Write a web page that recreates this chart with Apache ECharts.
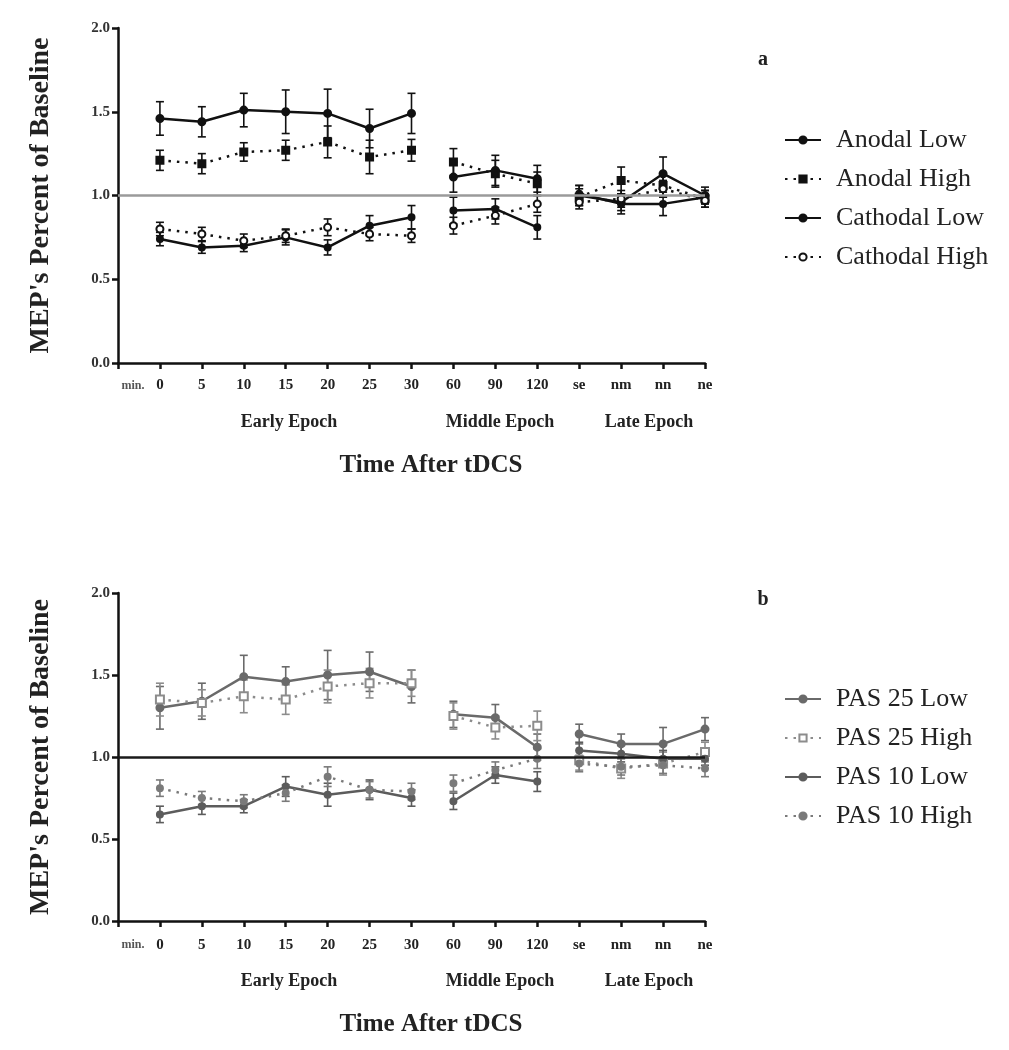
<!DOCTYPE html>
<html>
<head>
<meta charset="utf-8">
<script src="https://cdn.jsdelivr.net/npm/echarts@6/dist/echarts.min.js"></script>
<style>
html,body{margin:0;padding:0;background:#fff;}
#chart{width:1009px;height:1050px;}
</style>
</head>
<body>
<div id="chart"></div>
<script>
// ---- Data ----
var categories = ['', '0', '5', '10', '15', '20', '25', '30', '60', '90', '120', 'se', 'nm', 'nn', 'ne'];
var yTicks = [0, 0.5, 1.0, 1.5, 2.0];
var epochs = ['Early Epoch', 'Middle Epoch', 'Late Epoch'];

// Panel a (tDCS)
var anodalLow       = [1.46, 1.44, 1.51, 1.50, 1.49, 1.40, 1.49, 1.11, 1.15, 1.10, 1.00, 0.96, 1.13, 1.00];
var anodalLowErr    = [0.10, 0.09, 0.10, 0.13, 0.145, 0.115, 0.12, 0.09, 0.09, 0.08, 0.06, 0.05, 0.10, 0.05];
var anodalHigh      = [1.21, 1.19, 1.26, 1.27, 1.32, 1.23, 1.27, 1.20, 1.13, 1.07, 0.99, 1.09, 1.06, 0.98];
var anodalHighErr   = [0.06, 0.06, 0.055, 0.06, 0.095, 0.10, 0.065, 0.08, 0.08, 0.07, 0.05, 0.08, 0.07, 0.05];
var cathodalLow     = [0.74, 0.69, 0.70, 0.75, 0.69, 0.82, 0.87, 0.91, 0.92, 0.81, 1.01, 0.95, 0.95, 0.99];
var cathodalLowErr  = [0.04, 0.035, 0.035, 0.045, 0.045, 0.06, 0.07, 0.08, 0.06, 0.07, 0.05, 0.06, 0.07, 0.04];
var cathodalHigh    = [0.80, 0.77, 0.73, 0.76, 0.81, 0.77, 0.76, 0.82, 0.88, 0.95, 0.96, 0.98, 1.04, 0.97];
var cathodalHighErr = [0.04, 0.04, 0.04, 0.04, 0.05, 0.04, 0.04, 0.05, 0.05, 0.05, 0.04, 0.05, 0.05, 0.04];

// Panel b (PAS)
var pas25Low      = [1.30, 1.34, 1.49, 1.46, 1.50, 1.52, 1.43, 1.26, 1.24, 1.06, 1.14, 1.08, 1.08, 1.17];
var pas25LowErr   = [0.13, 0.11, 0.13, 0.09, 0.15, 0.12, 0.10, 0.08, 0.08, 0.08, 0.06, 0.06, 0.10, 0.07];
var pas25High     = [1.35, 1.33, 1.37, 1.35, 1.43, 1.45, 1.45, 1.25, 1.18, 1.19, 0.98, 0.93, 0.96, 1.03];
var pas25HighErr  = [0.10, 0.08, 0.10, 0.09, 0.10, 0.09, 0.08, 0.08, 0.07, 0.09, 0.06, 0.06, 0.07, 0.06];
var pas10Low      = [0.65, 0.70, 0.70, 0.82, 0.77, 0.80, 0.75, 0.73, 0.89, 0.85, 1.04, 1.02, 0.99, 0.99];
var pas10LowErr   = [0.05, 0.05, 0.04, 0.06, 0.07, 0.06, 0.05, 0.05, 0.05, 0.06, 0.05, 0.05, 0.05, 0.04];
var pas10High     = [0.81, 0.75, 0.73, 0.78, 0.88, 0.80, 0.79, 0.84, 0.92, 0.99, 0.96, 0.94, 0.95, 0.93];
var pas10HighErr  = [0.05, 0.04, 0.04, 0.05, 0.06, 0.05, 0.05, 0.05, 0.05, 0.06, 0.05, 0.05, 0.05, 0.05];

// epoch segments (indices into the 14 data points)
var segments = [[0, 6], [7, 9], [10, 13]];

var FONT = 'Liberation Serif';

var groups = [
  {grid: 0, items: [
    {name: 'Anodal Low', v: anodalLow, e: anodalLowErr, color: '#111', dash: 'solid', symbol: 'circle', size: 7},
    {name: 'Anodal High', v: anodalHigh, e: anodalHighErr, color: '#111', dash: [2.5, 6], symbol: 'rect', size: 7},
    {name: 'Cathodal Low', v: cathodalLow, e: cathodalLowErr, color: '#111', dash: 'solid', symbol: 'circle', size: 6},
    {name: 'Cathodal High', v: cathodalHigh, e: cathodalHighErr, color: '#111', dash: [2.5, 6], symbol: 'emptyCircle', size: 7}
  ]},
  {grid: 1, items: [
    {name: 'PAS 25 Low', v: pas25Low, e: pas25LowErr, color: '#6a6a6a', dash: 'solid', symbol: 'circle', size: 7},
    {name: 'PAS 25 High', v: pas25High, e: pas25HighErr, color: '#8c8c8c', dash: [2.5, 6], symbol: 'emptyRect', size: 8},
    {name: 'PAS 10 Low', v: pas10Low, e: pas10LowErr, color: '#5c5c5c', dash: 'solid', symbol: 'circle', size: 6},
    {name: 'PAS 10 High', v: pas10High, e: pas10HighErr, color: '#7a7a7a', dash: [2.5, 6], symbol: 'circle', size: 6}
  ]}
];

var series = [];
groups.forEach(function (g) {
  g.items.forEach(function (it) {
    segments.forEach(function (seg) {
      var data = categories.map(function () { return '-'; });
      for (var i = seg[0]; i <= seg[1]; i++) data[i + 1] = it.v[i];
      series.push({
        type: 'line', name: it.name, xAxisIndex: g.grid, yAxisIndex: g.grid,
        data: data, connectNulls: false,
        symbol: it.symbol, symbolSize: it.size,
        lineStyle: {color: it.color, width: 2.5, type: it.dash},
        itemStyle: {color: it.color, borderColor: it.color, borderWidth: 2},
        z: 3
      });
    });
    var errData = it.v.map(function (val, i) { return [i + 1, val, it.e[i]]; });
    series.push({
      type: 'custom', name: it.name + ' err', xAxisIndex: g.grid, yAxisIndex: g.grid,
      data: errData, z: 2,
      renderItem: function (params, api) {
        var x = api.value(0), y = api.value(1), e = api.value(2);
        var top = api.coord([x, y + e]);
        var bot = api.coord([x, y - e]);
        var w = 4;
        var st = {stroke: it.color, lineWidth: 1.6};
        return {type: 'group', children: [
          {type: 'line', shape: {x1: top[0], y1: top[1], x2: bot[0], y2: bot[1]}, style: st},
          {type: 'line', shape: {x1: top[0] - w, y1: top[1], x2: top[0] + w, y2: top[1]}, style: st},
          {type: 'line', shape: {x1: bot[0] - w, y1: bot[1], x2: bot[0] + w, y2: bot[1]}, style: st}
        ]};
      }
    });
  });
});

// reference lines at 1.0
series.push({
  type: 'line', name: 'ref0', xAxisIndex: 0, yAxisIndex: 0, data: [], silent: true,
  markLine: {symbol: 'none', silent: true, label: {show: false},
    lineStyle: {color: '#9a9a9a', width: 2.5, type: 'solid'}, data: [{yAxis: 1}]}, z: 1
});
series.push({
  type: 'line', name: 'ref1', xAxisIndex: 1, yAxisIndex: 1, data: [], silent: true,
  markLine: {symbol: 'none', silent: true, label: {show: false},
    lineStyle: {color: '#1a1a1a', width: 2.5, type: 'solid'}, data: [{yAxis: 1}]}, z: 1
});

function xAxisCfg(gi, margin) {
  return {
    type: 'category', gridIndex: gi, data: categories, boundaryGap: false,
    axisLine: {lineStyle: {color: '#111', width: 2.5}},
    axisTick: {length: 6, lineStyle: {color: '#111', width: 2.5}, interval: 0},
    axisLabel: {interval: 0, color: '#222', fontFamily: FONT, fontWeight: 'bold', fontSize: 15, margin: margin},
    splitLine: {show: false}
  };
}
function yAxisCfg(gi) {
  return {
    type: 'value', gridIndex: gi, min: yTicks[0], max: yTicks[yTicks.length - 1], interval: 0.5,
    name: "MEP's Percent of Baseline", nameLocation: 'middle', nameGap: 63, nameRotate: 90,
    nameTextStyle: {fontFamily: FONT, fontWeight: 'bold', fontSize: 28, color: '#222'},
    axisLine: {show: true, lineStyle: {color: '#111', width: 2.5}},
    axisTick: {show: true, length: 6, lineStyle: {color: '#111', width: 2.5}},
    axisLabel: {color: '#333', fontFamily: FONT, fontWeight: 'bold', fontSize: 15, margin: 8,
      formatter: function (v) { return v.toFixed(1); }},
    splitLine: {show: false}
  };
}

function txt(x, y, s, size, bold, color) {
  return {type: 'text', x: x, y: y, silent: true,
    style: {text: s, fontFamily: FONT, fontSize: size, fontWeight: bold ? 'bold' : 'normal',
      fill: color || '#222', align: 'center', verticalAlign: 'middle'}};
}

var graphics = [
  txt(133, 386, 'min.', 12, true, '#555'),
  txt(133, 945, 'min.', 12, true, '#555'),
  txt(289, 422, epochs[0], 18, true), txt(500, 422, epochs[1], 18, true), txt(649, 422, epochs[2], 18, true),
  txt(289, 981, epochs[0], 18, true), txt(500, 981, epochs[1], 18, true), txt(649, 981, epochs[2], 18, true),
  txt(431, 466, 'Time After tDCS', 25, true),
  txt(431, 1025, 'Time After tDCS', 25, true),
  txt(763, 60, 'a', 20, true),
  txt(763, 600, 'b', 20, true)
];

function legendCfg(gi, top) {
  return {data: groups[gi].items.map(function (d) { return d.name; }), orient: 'vertical', left: 779, top: top,
    itemWidth: 36, itemHeight: 9, itemGap: 13,
    textStyle: {fontFamily: FONT, fontSize: 26, color: '#222', padding: [0, 0, 0, 10]}};
}

var option = {
  animation: false,
  backgroundColor: '#fff',
  grid: [
    {left: 118, right: 304, top: 28, height: 335},
    {left: 118, right: 304, top: 593, height: 328}
  ],
  xAxis: [xAxisCfg(0, 15), xAxisCfg(1, 17)],
  yAxis: [yAxisCfg(0), yAxisCfg(1)],
  legend: [legendCfg(0, 122), legendCfg(1, 681)],
  graphic: graphics,
  series: series
};

var chart = echarts.init(document.getElementById('chart'));
chart.setOption(option);
</script>
</body>
</html>
